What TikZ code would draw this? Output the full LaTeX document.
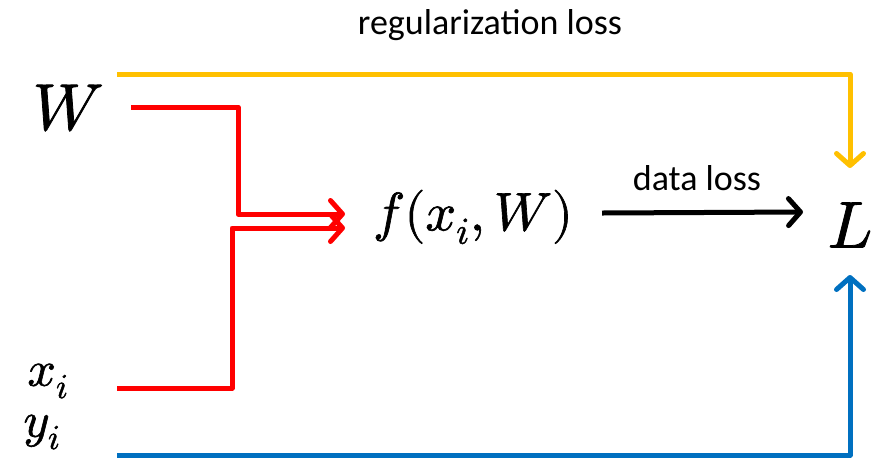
\documentclass[tikz,border=0pt]{standalone}
\usepackage{fontspec}
\usepackage{unicode-math}
\setmathfont{Latin Modern Math}[FakeBold=1.2]
\newfontfamily\labelfont{Carlito}
\usetikzlibrary{arrows.meta}
\definecolor{regcol}{RGB}{255,192,0}
\definecolor{fcol}{RGB}{255,0,0}
\definecolor{ycol}{RGB}{0,112,192}
\tikzset{
  conn/.style={line width=5pt, line join=round, line cap=butt},
  tipb/.style={-{Straight Barb[length=12pt,width=27pt,line cap=round,line join=round]}},
  lbl/.style={font=\labelfont\fontsize{36}{42}\selectfont, inner sep=0pt},
  mbig/.style={font=\fontsize{66}{80}\selectfont, inner sep=0pt},
  mmid/.style={font=\fontsize{54}{64}\selectfont, inner sep=0pt},
  msmall/.style={font=\fontsize{50}{60}\selectfont, inner sep=0pt}
}
\begin{document}
\begin{tikzpicture}[x=1pt,y=-1pt]
\useasboundingbox (0,0) rectangle (880,459);
% nodes
\node[mbig] (W) at (68,108) {$W$};
\node[msmall] (x) at (48,381) {$x_i$};
\node[msmall] (y) at (42,432) {$y_i$};
\node[mmid] (f) at (473,217) {$f(x_i,W)$};
\node[mbig] (L) at (850,225) {$L$};
\node[lbl] (reg) at (490,25) {regularization loss};
\node[lbl] (dl) at (697,178) {data loss};
% connector end points
\coordinate (wout) at (131,107);
\coordinate (xout) at (117,388);
\coordinate (yout) at (117,455);
\coordinate (regout) at (117,74);
\coordinate (fin1) at (345,214);
\coordinate (fin2) at (345,228);
\coordinate (fout) at (602,213);
\coordinate (lin) at (803,212);
\coordinate (ltop) at (850,168);
\coordinate (lbot) at (850,275);
% connectors
\draw[conn, regcol, tipb] (regout) -| (ltop);
\draw[conn, fcol, tipb] (wout) -- (238,107) -- (238,214) -- (fin1);
\draw[conn, fcol, tipb] (xout) -- (232,388) -- (232,228) -- (fin2);
\draw[conn, black, tipb] (fout) -- (lin);
\draw[conn, ycol, tipb] (yout) -| (lbot);
\end{tikzpicture}
\end{document}
